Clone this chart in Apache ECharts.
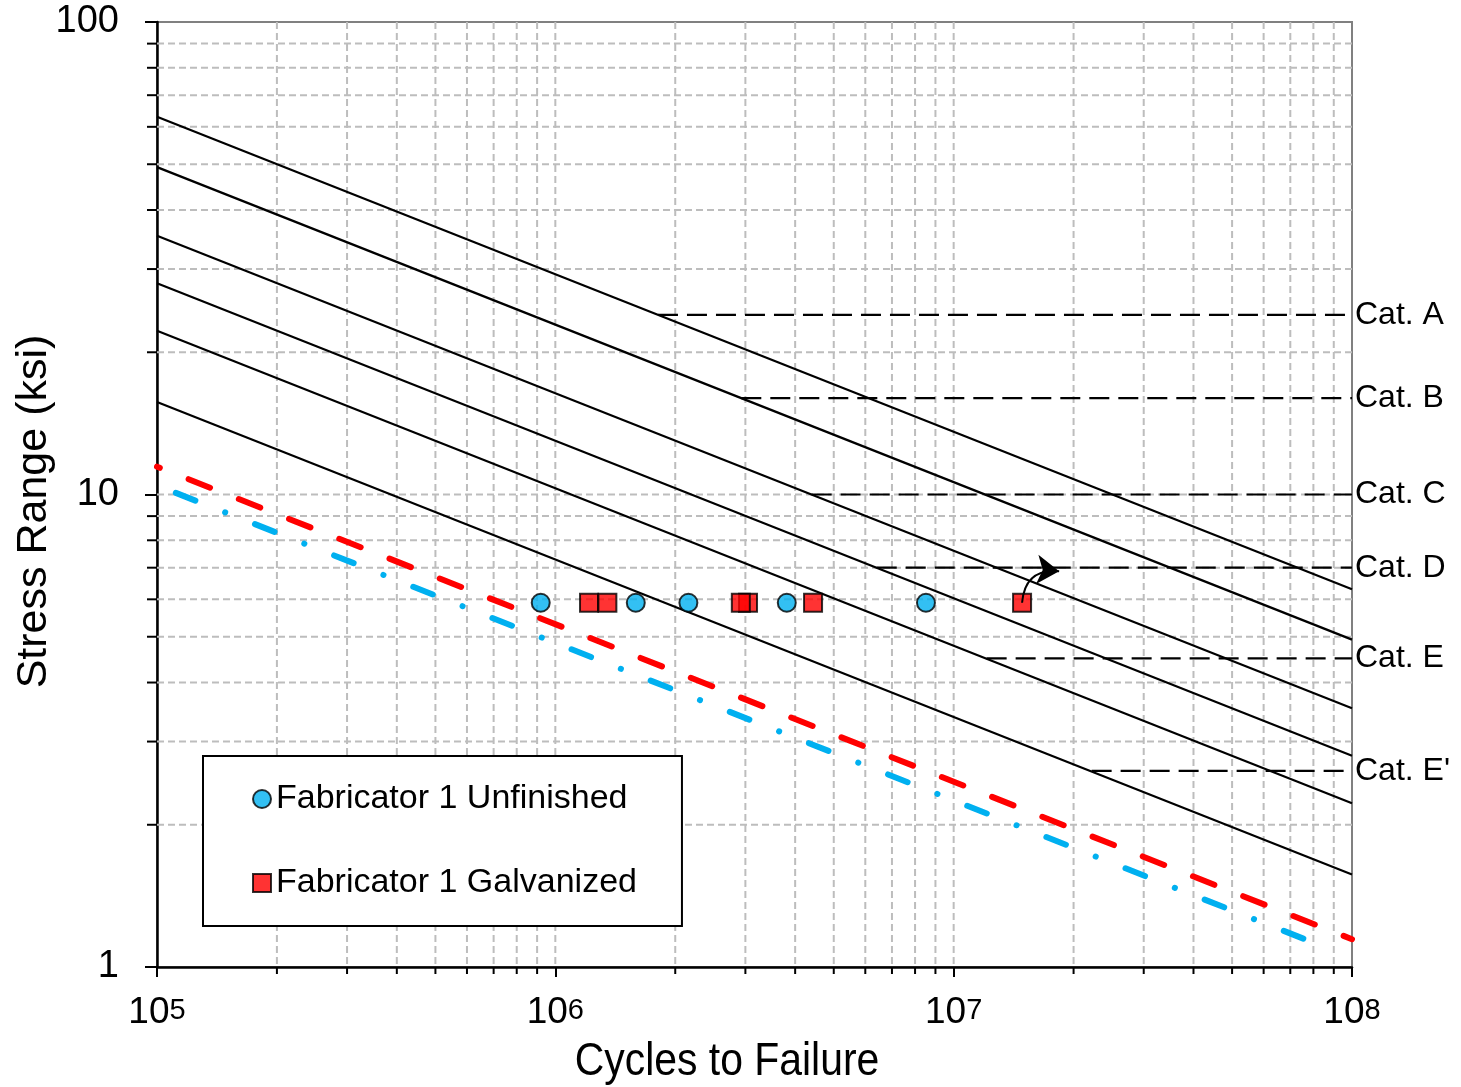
<!DOCTYPE html>
<html>
<head>
<meta charset="utf-8">
<script src="https://cdn.jsdelivr.net/npm/echarts@6/dist/echarts.min.js"></script>
<style>html,body{margin:0;padding:0;background:#fff;}#c{width:1461px;height:1087px;}</style>
</head>
<body>
<div id="c"></div>
<script>
// ---- data ----
const categories = ['Cat. A', 'Cat. B', 'Cat. C', 'Cat. D', 'Cat. E', "Cat. E'"];
const snCyclesStart = 1e5;
const snCyclesEnd = 1e8;
const snStressStart = [63.0, 49.3, 35.3, 28.0, 22.2, 15.7];
const snStressEnd = [6.30, 4.93, 3.53, 2.80, 2.22, 1.57];
const thresholdStress = [24, 16, 10, 7, 4.5, 2.6];
const thresholdStartCycles = [1.81e6, 2.93e6, 4.4e6, 6.41e6, 1.21e7, 2.22e7];
const unfinishedCycles = [9.19e5, 1.592e6, 2.158e6, 3.811e6, 8.52e6];
const unfinishedStress = [5.9, 5.9, 5.9, 5.9, 5.9];
const galvanizedCycles = [1.215e6, 1.351e6, 3.046e6, 2.922e6, 4.436e6, 1.485e7];
const galvanizedStress = [5.9, 5.9, 5.9, 5.9, 5.9, 5.9];
const galvanizedFitCycles = [1e5, 1e8];
const galvanizedFitStress = [11.45, 1.145];
const unfinishedFitCycles = [1.115e5, 8.91e7];
const unfinishedFitStress = [10.08, 1.0865];
const runoutArrowCycles = [1.485e7, 1.84e7];
const runoutArrowStress = [5.9, 6.88];
const xDecades = [1e5, 1e6, 1e7];
const yDecades = [1, 10];
const minorSteps = [1, 2, 3, 4, 5, 6, 7, 8, 9];
const yTickLabels = {1: '1', 10: '10', 100: '100'};
const xAxisTitle = 'Cycles to Failure';
const yAxisTitle = 'Stress Range (ksi)';

const FONT = "'Liberation Sans', Arial, sans-serif";
const zip = (a, b) => a.map((v, i) => [v, b[i]]);

// grid line positions
const xGrid = [];
xDecades.forEach(d => minorSteps.forEach(m => {
  if (d === 1e5 && m === 1) return;
  xGrid.push([d * m, 1, m === 1 ? 1 : 0]);
}));
const yGrid = [];
yDecades.forEach(d => minorSteps.forEach(m => {
  if (d === 1 && m === 1) return;
  yGrid.push([1e5, d * m, m === 1 ? 1 : 0]);
}));

const GRID_STYLE = {stroke: '#bdbdbd', lineWidth: 2, lineDash: [7, 4]};

const series = [];
series.push({
  type: 'custom', coordinateSystem: 'cartesian2d', silent: true, z: 1, clip: false,
  data: xGrid, encode: {x: 0, y: 1},
  renderItem: function (params, api) {
    const v = api.value(0), major = api.value(2);
    const b = api.coord([v, 1]), t = api.coord([v, 100]);
    const ch = [{type: 'line', shape: {x1: b[0], y1: t[1], x2: b[0], y2: b[1]}, style: GRID_STYLE}];
    if (!major) ch.push({type: 'line', shape: {x1: b[0], y1: b[1], x2: b[0], y2: b[1] + 7}, style: {stroke: '#000', lineWidth: 2}});
    return {type: 'group', children: ch};
  }
});
series.push({
  type: 'custom', coordinateSystem: 'cartesian2d', silent: true, z: 1, clip: false,
  data: yGrid, encode: {x: 0, y: 1},
  renderItem: function (params, api) {
    const v = api.value(1), major = api.value(2);
    const l = api.coord([1e5, v]), r = api.coord([1e8, v]);
    const ch = [{type: 'line', shape: {x1: l[0], y1: l[1], x2: r[0], y2: l[1]}, style: GRID_STYLE}];
    if (!major) ch.push({type: 'line', shape: {x1: l[0] - 10, y1: l[1], x2: l[0], y2: l[1]}, style: {stroke: '#000', lineWidth: 2}});
    return {type: 'group', children: ch};
  }
});

categories.forEach((c, i) => {
  series.push({
    type: 'line', name: 'sn' + i, silent: true, symbol: 'none', z: 3,
    data: [[snCyclesStart, snStressStart[i]], [snCyclesEnd, snStressEnd[i]]],
    lineStyle: {color: '#000', width: 2.2}
  });
  series.push({
    type: 'line', name: 'cafl' + i, silent: true, symbol: 'none', z: 3,
    data: [[thresholdStartCycles[i], thresholdStress[i]], [snCyclesEnd, thresholdStress[i]]],
    lineStyle: {color: '#000', width: 2.2, type: [20, 9]},
    endLabel: {show: true, formatter: c, color: '#000', fontSize: 32, fontFamily: FONT, distance: 3}
  });
});

series.push({
  type: 'line', name: 'galvFit', silent: true, symbol: 'none', z: 4,
  data: zip(galvanizedFitCycles, galvanizedFitStress),
  lineStyle: {color: '#ff0000', width: 6, type: [23, 31], dashOffset: 20, cap: 'round'}
});
series.push({
  type: 'line', name: 'unfFit', silent: true, symbol: 'none', z: 4,
  data: zip(unfinishedFitCycles, unfinishedFitStress),
  lineStyle: {color: '#00b0f0', width: 6, type: [21, 32, 0.1, 32], cap: 'round'}
});

series.push({
  type: 'scatter', name: 'Fabricator 1 Unfinished', z: 5,
  data: zip(unfinishedCycles, unfinishedStress),
  symbol: 'circle', symbolSize: 18,
  itemStyle: {color: '#00b0f0', borderColor: '#000', borderWidth: 2}
});
series.push({
  type: 'scatter', name: 'Fabricator 1 Galvanized', z: 5,
  data: zip(galvanizedCycles, galvanizedStress),
  symbol: 'rect', symbolSize: 18,
  itemStyle: {color: '#ff0000', borderColor: '#000', borderWidth: 2}
});
series.push({
  type: 'lines', coordinateSystem: 'cartesian2d', silent: true, z: 6,
  data: [{coords: zip(runoutArrowCycles, runoutArrowStress)}],
  symbol: ['none', 'arrow'], symbolSize: [18, 22],
  lineStyle: {color: '#000', width: 2, curveness: 0.5, opacity: 1}
});

const option = {
  animation: false,
  backgroundColor: '#fff',
  grid: {
    left: 157, right: 109, top: 22, bottom: 120, containLabel: false, outerBoundsMode: 'none',
    show: true, borderColor: '#808080', borderWidth: 2, backgroundColor: 'transparent'
  },
  graphic: [{
    type: 'text', x: 727, y: 1062, scaleX: 0.87, silent: true,
    style: {text: xAxisTitle, fontSize: 47, fontFamily: FONT, fill: '#000', align: 'center', verticalAlign: 'middle'}
  }],
  legend: {
    data: ['Fabricator 1 Unfinished', 'Fabricator 1 Galvanized'],
    orient: 'vertical', left: 203, top: 756,
    itemWidth: 18, itemHeight: 18, itemGap: 44,
    padding: [23, 45, 23, 49],
    borderColor: '#000', borderWidth: 2, backgroundColor: '#fff',
    selectedMode: false, z: 10,
    textStyle: {fontSize: 34, lineHeight: 40, color: '#000', fontFamily: FONT}
  },
  xAxis: {
    type: 'log', logBase: 10, min: 1e5, max: 1e8,
    axisLine: {show: true, lineStyle: {color: '#000', width: 2.5}},
    axisTick: {show: true, length: 10, lineStyle: {color: '#000', width: 2}},
    splitLine: {show: false},
    axisLabel: {
      margin: 25,
      formatter: v => '{b|10}{s|' + Math.round(Math.log10(v)) + '}',
      rich: {
        b: {fontSize: 37, lineHeight: 42, color: '#000', fontFamily: FONT},
        s: {fontSize: 29, lineHeight: 29, padding: [0, 0, 5, 0], color: '#000', fontFamily: FONT}
      }
    }
  },
  yAxis: {
    type: 'log', logBase: 10, min: 1, max: 100,
    name: yAxisTitle, nameLocation: 'middle', nameGap: 101, nameMoveOverlap: false,
    nameTextStyle: {fontSize: 43, color: '#000', fontFamily: FONT, padding: [0, 34, 0, 0]},
    axisLine: {show: true, lineStyle: {color: '#000', width: 2.5}},
    axisTick: {show: true, length: 12, lineStyle: {color: '#000', width: 2}},
    splitLine: {show: false},
    axisLabel: {
      margin: 38, fontSize: 38, color: '#000', fontFamily: FONT, padding: [6, 0, 0, 0],
      formatter: v => yTickLabels[Math.round(v)] || ''
    }
  },
  series: series
};

const chart = echarts.init(document.getElementById('c'), null, {renderer: 'canvas'});
chart.setOption(option);
</script>
</body>
</html>
